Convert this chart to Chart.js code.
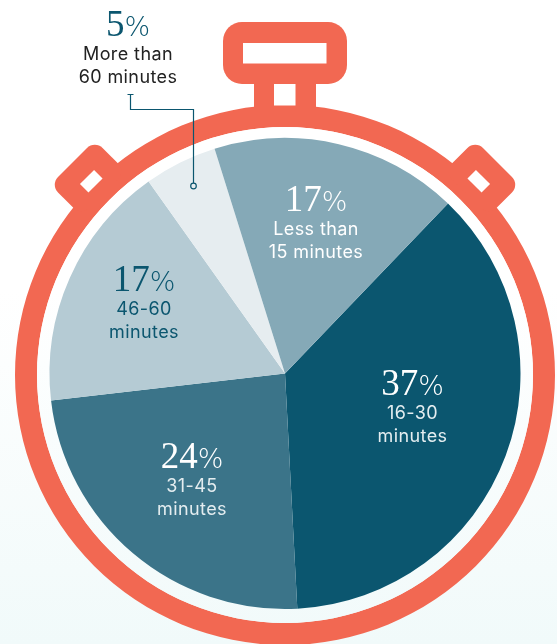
<!DOCTYPE html>
<html><head><meta charset="utf-8">
<script src="https://cdn.jsdelivr.net/npm/chart.js@4"></script>
<style>
html,body{margin:0;padding:0;width:557px;height:644px;overflow:hidden;background:linear-gradient(180deg,#ffffff 0%,#ffffff 45%,#f1fafa 100%)}
canvas{display:block}
</style></head><body>
<canvas id="c" width="557" height="644"></canvas>
<script>
const categories = ["16-30 minutes","31-45 minutes","46-60 minutes","More than 60 minutes","Less than 15 minutes"];
const shares = [37,24,17,5,17];
const sliceColors = ["#0b566f","#3b7489","#b5cbd4","#e6edf0","#85a9b7"];
const labelLines = [["16-30","minutes"],["31-45","minutes"],["46-60","minutes"],["More than","60 minutes"],["Less than","15 minutes"]];
const labelColors = ["#ffffff","#ffffff","#0b566f","#0b566f","#ffffff"];
const subColors = ["#e4edf0","#e4edf0","#0b566f","#222222","#ffffff"];
const labelPlaces = [[412.5,383],[192,456],[144,279],[128,24],[316,199]];

const RED = "#f26852";
function rr(ctx,x,y,w,h,r){ctx.roundRect(x,y,w,h,r);}
const shell = {id:"shell",beforeDatasetsDraw(chart){
  const ctx = chart.ctx, cx = 285, cy = 375;
  ctx.save();
  ctx.fillStyle = RED;
  ctx.beginPath(); ctx.arc(cx,cy,270,0,Math.PI*2); ctx.arc(cx,cy,248,0,Math.PI*2,true); ctx.fill();
  ctx.beginPath(); rr(ctx,223,22,124,62,19); ctx.fill();
  ctx.fillRect(254,80,62,30);
  [-45,45].forEach(a=>{
    ctx.save(); ctx.translate(cx,cy); ctx.rotate(a*Math.PI/180);
    ctx.beginPath(); rr(ctx,-31.5,-300.5,63,44,11); ctx.fill();
    ctx.restore();
  });
  ctx.globalCompositeOperation = "destination-out";
  ctx.fillStyle = "#000";
  ctx.fillRect(243,43,83.5,20.5);
  ctx.fillRect(274,84,21.5,21.5);
  [-45,45].forEach(a=>{
    ctx.save(); ctx.translate(cx,cy); ctx.rotate(a*Math.PI/180);
    ctx.fillRect(-10,-280,20,12);
    ctx.restore();
  });
  ctx.beginPath(); ctx.arc(cx,cy,248,0,Math.PI*2); ctx.fill();
  ctx.restore();
}};
const labels = {id:"labels",afterDatasetsDraw(chart){
  const ctx = chart.ctx;
  ctx.save();
  ctx.textBaseline = "alphabetic";
  const numFont = "400 37px 'Liberation Serif'", pctFont = "200 27px 'DejaVu Sans'";
  shares.forEach((v,i)=>{
    const [x,y] = labelPlaces[i];
    const num = String(v);
    ctx.font = numFont;
    const nw = ctx.measureText(num).width;
    ctx.font = pctFont;
    const pw = ctx.measureText("%").width;
    const left = x-(nw+pw)/2;
    ctx.fillStyle = labelColors[i];
    ctx.textAlign = "left";
    ctx.font = numFont;
    ctx.fillText(num,left,y+12);
    ctx.font = pctFont;
    ctx.fillText("%",left+nw,y+12);
    ctx.textAlign = "center";
    ctx.fillStyle = subColors[i];
    ctx.font = "400 18px Inter";
    ctx.letterSpacing = "0.4px";
    labelLines[i].forEach((t,k)=>ctx.fillText(t,x,y+36+k*23));
    ctx.letterSpacing = "0px";
  });
  ctx.strokeStyle = "#0b566f"; ctx.lineWidth = 1.2;
  ctx.beginPath();
  ctx.moveTo(127.5,94.5); ctx.lineTo(133.5,94.5);
  ctx.moveTo(130.5,94.5); ctx.lineTo(130.5,109.5); ctx.lineTo(193.5,109.5); ctx.lineTo(193.5,183);
  ctx.stroke();
  ctx.beginPath(); ctx.arc(193.5,186,2.8,0,Math.PI*2); ctx.stroke();
  ctx.restore();
}};
new Chart(document.getElementById("c"),{
  type:"pie",
  data:{labels:categories,datasets:[{data:shares,backgroundColor:sliceColors,borderWidth:0}]},
  options:{
    responsive:false,animation:false,rotation:43.8,
    layout:{padding:{left:49.5,right:36.5,top:138,bottom:35}},
    plugins:{legend:{display:false},tooltip:{enabled:false}}
  },
  plugins:[shell,labels]
});
</script>
</body></html>
